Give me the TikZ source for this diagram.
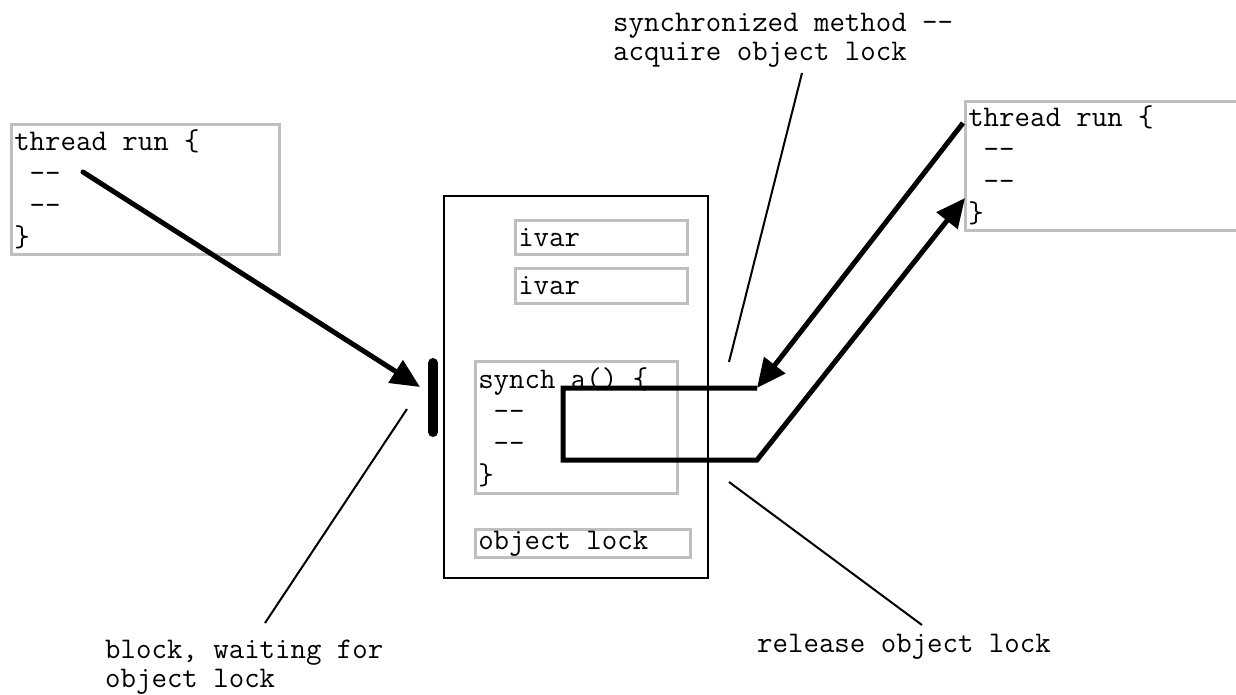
\documentclass[tikz,border=0pt]{standalone}
\usepackage{fontspec}
\usetikzlibrary{arrows.meta}
\definecolor{boxgray}{RGB}{191,191,191}

\begin{document}
\begin{tikzpicture}[x=1pt,y=-1pt,>={Triangle[length=29pt,width=26pt]},
                    flow/.style={line width=5pt},callout/.style={line width=2pt}]
  \tikzstyle{codebox}=[draw=boxgray,line width=2.5pt,anchor=north west,
                       inner xsep=3pt,inner ysep=0pt,align=left,
                       font=\ttfamily\fontsize{30}{32}\selectfont,
                       execute at begin node={\spaceskip=\fontdimen2\font
                                              \xspaceskip=\fontdimen2\font\relax}]
  \tikzstyle{note}=[anchor=base west,inner sep=0pt,align=left,
                    font=\ttfamily\fontsize{30}{28.5}\selectfont]
  \useasboundingbox (0,0) rectangle (1236,694);

  % threads
  \node[codebox,minimum width=268pt,text width=262pt,minimum height=130pt]
    (lthread) at (10,123) {thread run \{\\~--\\~--\\\}};
  \node[codebox,minimum width=300pt,text width=294pt,minimum height=129pt]
    (rthread) at (964,100) {thread run \{\\~--\\~--\\\}};

  % the object
  \node[draw,line width=2pt,anchor=north west,minimum width=264pt,
        minimum height=382pt] (obj) at (443,195) {};
  \node[codebox,minimum width=172pt,text width=166pt,minimum height=34pt]
    (ivarA) at (514,219) {ivar};
  \node[codebox,minimum width=172pt,text width=166pt,minimum height=35pt]
    (ivarB) at (514,267) {ivar};
  \node[codebox,minimum width=202pt,text width=196pt,minimum height=132pt]
    (synch) at (474,360) {synch a() \{\\~--\\~--\\\}};
  \node[codebox,minimum width=215pt,text width=209pt,minimum height=28pt]
    (lock) at (474,528) {object lock};

  % notes (base = last line)
  \node[note] (acqnote) at (613,60) {synchronized method --\\acquire object lock};
  \node[note] (waitnote) at (105,687) {block, waiting for\\object lock};
  \node[note] (relnote) at (757,652) {release object lock};

  \coordinate (bartop) at (433,363);
  \coordinate (barbot) at (433,432);
  \coordinate (lstart) at (83,172);
  \coordinate (ltip) at (420,387);
  \coordinate (acqstart) at (963,123);
  \coordinate (acqtip) at (757,388);
  \coordinate (loopnw) at (563,388);
  \coordinate (loopsw) at (563,460);
  \coordinate (loopse) at (757,460);
  \coordinate (reltip) at (965,198);
  \coordinate (acqA) at (802,73);
  \coordinate (acqB) at (729,362);
  \coordinate (waitA) at (407,409);
  \coordinate (waitB) at (265,623);
  \coordinate (relA) at (729,482);
  \coordinate (relB) at (922,625);

  % blocked thread
  \draw[line width=10pt,line cap=round] (bartop) -- (barbot);
  \draw[flow,->,line cap=round] (lstart) -- (ltip);

  % acquire and release
  \draw[flow,->] (acqstart) -- (acqtip);
  \draw[flow,->] (acqtip) -- (loopnw) -- (loopsw) -- (loopse) -- (reltip);

  \draw[callout] (acqA) -- (acqB);
  \draw[callout] (waitA) -- (waitB);
  \draw[callout] (relA) -- (relB);
\end{tikzpicture}
\end{document}
